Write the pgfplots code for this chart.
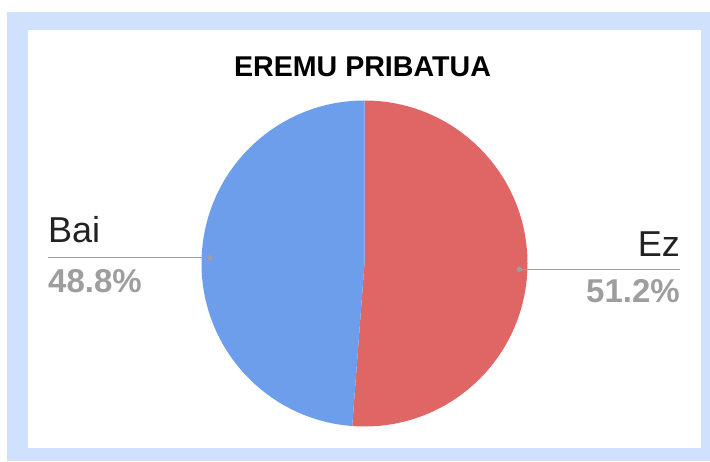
\documentclass[border=0pt]{standalone}
\usepackage{pgfplots}
\pgfplotsset{compat=1.18}
\usepackage{pgfplotstable}
\usepackage{fontspec}
\setmainfont{Liberation Sans}
\definecolor{frameblue}{RGB}{207,225,252}
\definecolor{ezred}{HTML}{E06666}
\definecolor{baiblue}{HTML}{6D9EEB}
\definecolor{leadgray}{HTML}{9E9E9E}
\definecolor{pctgray}{HTML}{9E9E9E}
\definecolor{labdark}{HTML}{222222}
\pgfplotstableread{
label value
Ez 51.2
Bai 48.8
}\piedata
\begin{document}%
\begin{tikzpicture}
\pgfplotstablegetelem{0}{value}\of\piedata \let\vA\pgfplotsretval
\pgfplotstablegetelem{1}{value}\of\piedata \let\vB\pgfplotsretval
\pgfmathsetmacro\total{\vA+\vB}
\pgfmathsetmacro\fA{\vA/\total}
\pgfmathsetmacro\fB{\vB/\total}
\pgfmathsetmacro\aA{90-360*\fA}
\pgfmathsetmacro\mA{90-180*\fA}
\pgfmathsetmacro\mB{\aA-180*\fB}
\begin{axis}[x=1pt,y=1pt,xmin=0,xmax=710,ymin=0,ymax=461,
  hide axis, clip=false, at={(0,0)}, anchor=origin,
  /pgf/number format/assume math mode=true]
  % frame
  \fill[frameblue] (axis cs:7,0) rectangle (axis cs:710,449);
  \fill[white] (axis cs:28,13) rectangle (axis cs:701,431);
  % pie
  \fill[ezred] (axis cs:364.5,197.5) -- ++(90:163pt)
      arc[start angle=90,end angle=\aA,radius=163pt] -- cycle;
  \fill[baiblue] (axis cs:364.5,197.5) -- ++(\aA:163pt)
      arc[start angle=\aA,end angle=-270,radius=163pt] -- cycle;
  % leader lines
  \path (axis cs:364.5,197.5) ++(\mA:155pt) coordinate (dA);
  \path (axis cs:364.5,197.5) ++(\mB:155pt) coordinate (dB);
  \coordinate (lA) at (axis cs:680,0);
  \coordinate (lB) at (axis cs:48,0);
  \draw[leadgray,line width=1.2pt] (dA) -- (dA -| lA);
  \draw[leadgray,line width=1.2pt] (dB) -- (dB -| lB);
  \fill[leadgray] (dA) circle (2.6pt);
  \fill[leadgray] (dB) circle (2.6pt);
  % labels
  \node[anchor=base east,inner sep=0pt,text=labdark,font=\fontsize{36}{40}\selectfont] at (axis cs:680,204) {Ez};
  \node[anchor=base east,inner sep=0pt,text=pctgray,font=\bfseries\fontsize{33}{36}\selectfont] at (axis cs:680,158) {\pgfmathprintnumber[fixed,precision=1,fixed zerofill,assume math mode=true]{\vA}\%};
  \node[anchor=base west,inner sep=0pt,text=labdark,font=\fontsize{36}{40}\selectfont] at (axis cs:48,218) {Bai};
  \node[anchor=base west,inner sep=0pt,text=pctgray,font=\bfseries\fontsize{33}{36}\selectfont] at (axis cs:48,168) {\pgfmathprintnumber[fixed,precision=1,fixed zerofill,assume math mode=true]{\vB}\%};
  % title
  \node[anchor=base,inner sep=0pt,text=black,font=\bfseries\fontsize{28.6}{32}\selectfont] at (axis cs:362.5,384) {EREMU PRIBATUA};
\end{axis}
\pgfresetboundingbox
\useasboundingbox (0,0) rectangle (710pt,461pt);
\end{tikzpicture}%
\end{document}
